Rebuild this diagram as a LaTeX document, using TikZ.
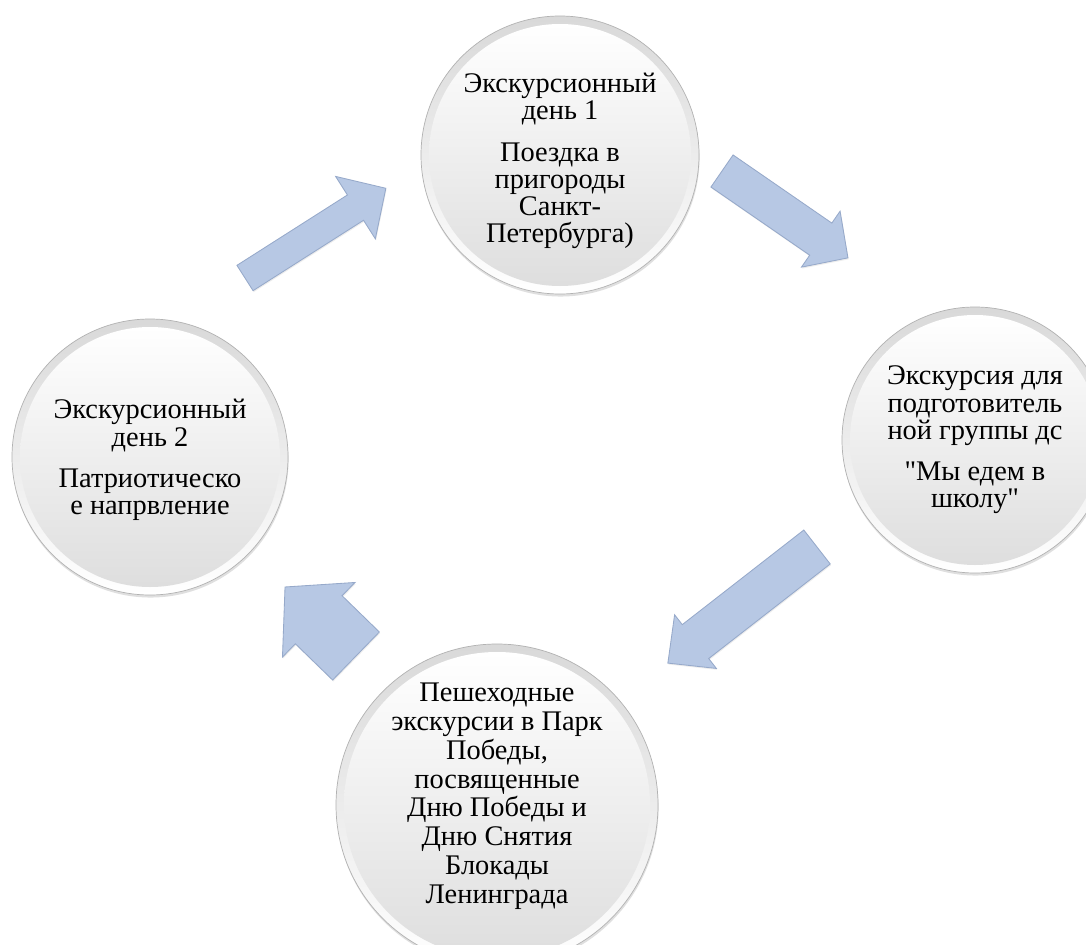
\documentclass[tikz,border=0pt]{standalone}
\usepackage{fontspec}
\setmainfont{Liberation Serif}[Ligatures=TeXOff]
\usetikzlibrary{shadows}
\definecolor{arrowfill}{RGB}{183,200,228}
\definecolor{arrowline}{RGB}{150,169,202}
\tikzset{rim/.style={circle,inner sep=0pt,minimum size=#1*0.25mm,draw=gray!60,line width=0.5pt,top color=gray!30,bottom color=white,drop shadow={shadow xshift=0.4pt,shadow yshift=-1.8pt,opacity=0.25}},
face/.style={circle,inner sep=0pt,minimum size=#1*0.25mm,top color=white,bottom color=gray!26},
txt/.style={align=center,inner sep=0pt,font=\fontsize{20.2}{19.4}\selectfont},
arrowbody/.style={fill=arrowfill,draw=arrowline,line width=0.6pt,line join=miter,drop shadow={shadow xshift=0.5pt,shadow yshift=-1pt,opacity=0.15}},
pics/blockarrow/.style args={#1/#2/#3/#4}{code={
\path[arrowbody] (0,-#2)--({#1-#4},-#2)--({#1-#4},-#3)--(#1,0)--({#1-#4},#3)--({#1-#4},#2)--(0,#2)--cycle;}}}

\begin{document}
\begin{tikzpicture}[x=0.25mm,y=-0.25mm]
\useasboundingbox[fill=white] (0,0) rectangle (1086,945);

\node[rim=278] (day1) at (560,155) {};
\node[face=262] at (day1) {};
\node[txt,yshift=-1.5mm] (day1txt) at (day1) {Экскурсионный\\день 1\\[10pt]Поездка в\\пригороды\\Санкт-\\Петербурга)};

\node[rim=266] (school) at (975,440) {};
\node[face=250] at (school) {};
\node[txt] (schooltxt) at (school) {Экскурсия для\\подготовитель\\ной группы дс\\[10pt]"Мы едем в\\школу"};

\node[rim=322] (park) at (497,805) {};
\node[face=306] at (park) {};
\node[txt,font=\fontsize{20.2}{20.6}\selectfont,yshift=2.2mm] (parktxt) at (park) {Пешеходные\\экскурсии в Парк\\Победы,\\посвященные\\Дню Победы и\\Дню Снятия\\Блокады\\Ленинграда};

\node[rim=276] (day2) at (150,457) {};
\node[face=260] at (day2) {};
\node[txt,yshift=-0.8mm] (day2txt) at (day2) {Экскурсионный\\день 2\\[10pt]Патриотическо\\е напрвление};

\coordinate (a1) at (245,278);
\coordinate (a2) at (722,171);
\coordinate (a3) at (817,547);
\coordinate (a4) at (356,656);
\pic[rotate=32.5] at (a1) {blockarrow=167/15/37/36};
\pic[rotate=-34.6] at (a2) {blockarrow=153/19.5/34/33};
\pic[rotate=-142.1] at (a3) {blockarrow=189/21.5/34/35};
\pic[rotate=135.8] at (a4) {blockarrow=99/33.5/52/47};
\end{tikzpicture}
\end{document}
